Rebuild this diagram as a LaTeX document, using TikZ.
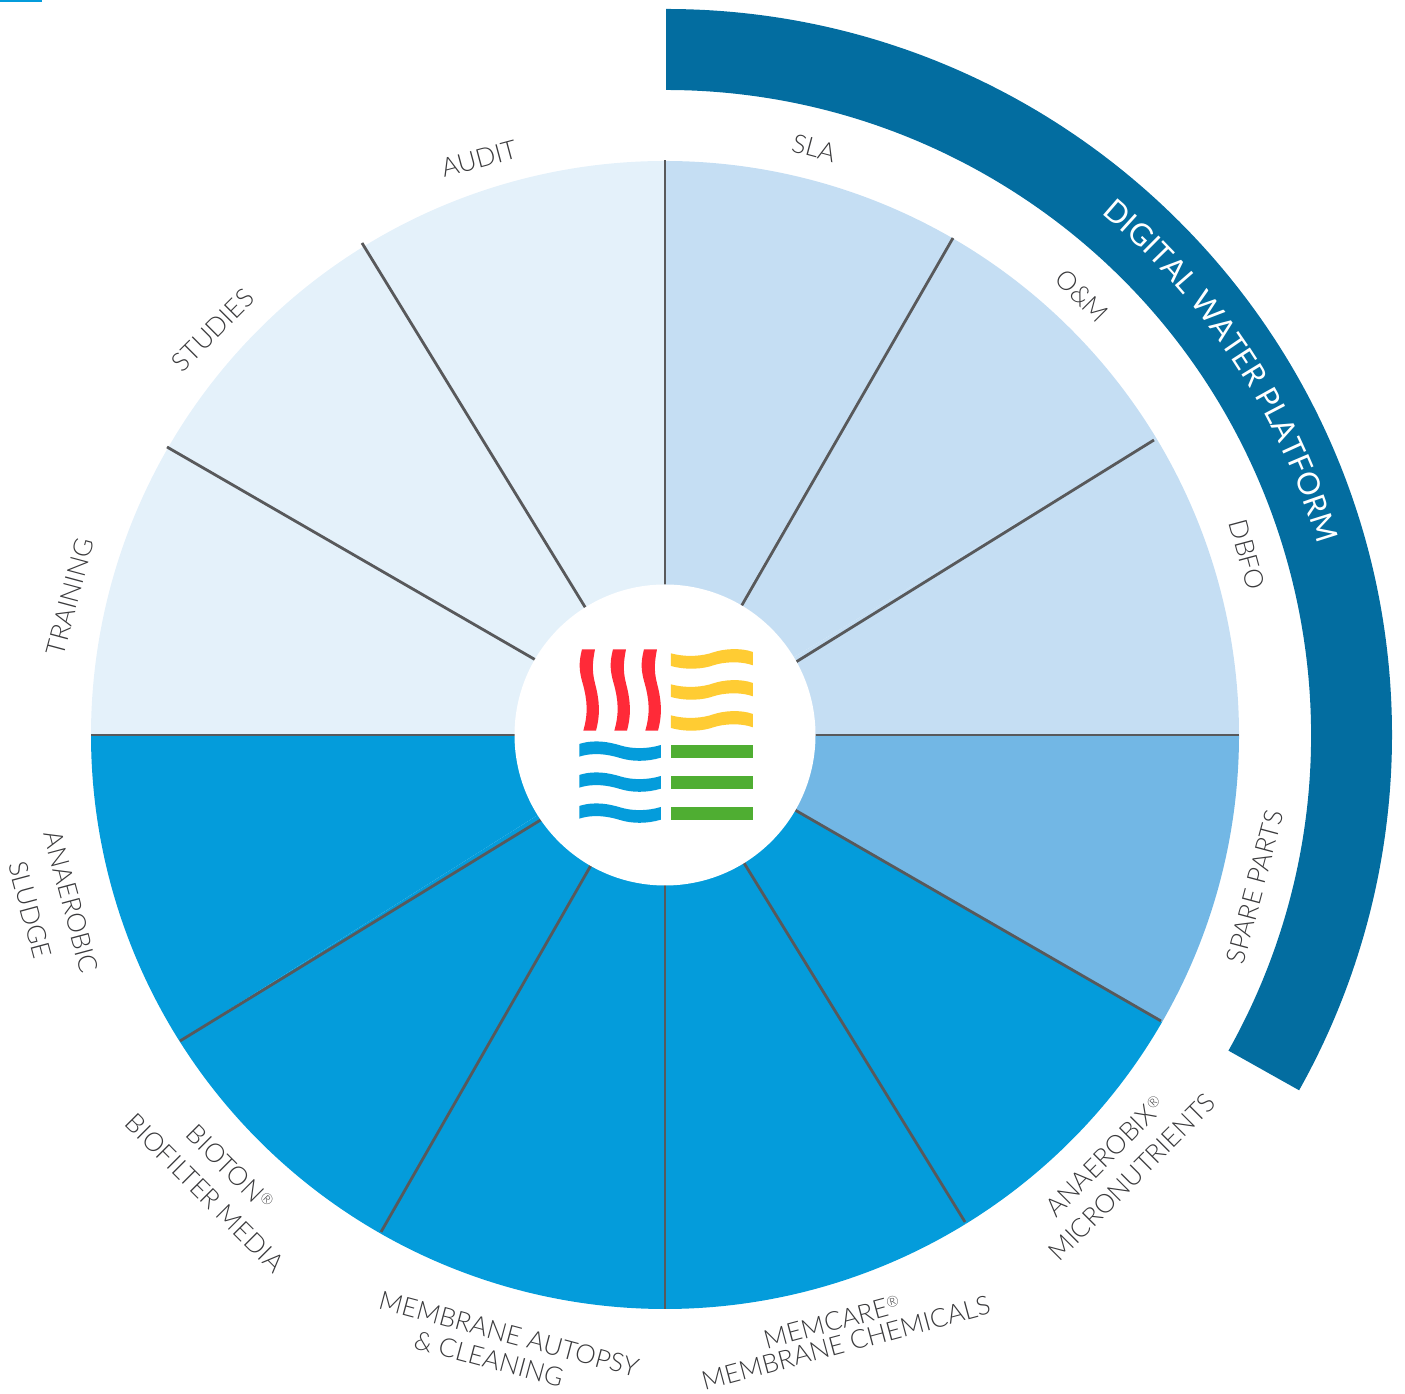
\documentclass[tikz,border=0pt]{standalone}
\usepackage{fontspec}
\setmainfont{Lato Light}
\newfontfamily\regfont{Lato}
\usetikzlibrary{decorations.text}
\definecolor{cLight}{HTML}{C5DEF3}
\definecolor{cPale}{HTML}{E4F1FA}
\definecolor{cMid}{HTML}{72B7E5}
\definecolor{cDark}{HTML}{049CDB}
\definecolor{cRing}{HTML}{036DA0}
\definecolor{cLine}{HTML}{58595B}
\definecolor{cText}{HTML}{3A3A3C}
\definecolor{cRed}{HTML}{FF2A38}
\definecolor{cYel}{HTML}{FFCC33}
\definecolor{cGrn}{HTML}{4FAE32}
\newcommand{\reg}{{\fontsize{15}{15}\selectfont\raisebox{8pt}{®}}}
\tikzset{
  lab/.style={text=cText,font=\fontsize{26}{26}\selectfont,inner sep=0pt,align=center},
  spoke/.style={draw=cLine,line width=2.8pt,shorten <=-4pt},
}
\begin{document}
\begin{tikzpicture}[x=1pt,y=1pt]
\useasboundingbox (0,0) rectangle (1405,1394);
\fill[cDark] (0,1392) rectangle (42,1394);
\begin{scope}[shift={(665,659)}]
  % ring
  \begin{scope}[xshift=1pt]
  \fill[cRing] (90:726) arc[start angle=90,end angle=-29.3,radius=726pt]
    -- (-29.3:645) arc[start angle=-29.3,end angle=90,radius=645pt] -- cycle;
  \end{scope}
  % wedges
  \foreach \a/\b/\c in {60/90/cLight,31.1/60/cLight,0/31.1/cLight,-30/0/cMid,-58.4/-30/cDark,-90/-58.4/cDark,-119.7/-90/cDark,-147.8/-119.7/cDark,-180/-147.8/cDark,150/180/cPale,121.6/150/cPale,90/121.6/cPale}{
    \fill[\c] (0,0) -- (\a:574) arc[start angle=\a,end angle=\b,radius=574pt] -- cycle;
  }
  % spokes
  \foreach \n/\ox/\oy/\ix/\iy in {a/574/0/151/0,b/489/295/131/73,c/288/497/77/130,d/0/575/0/150,e/-303/492/-80/128,f/-498/288/-131/76,g/-574/0/-151/0,h/-485/-306/-126/-86,i/-284/-497/-75/-132,j/0/-574/0/-151,k/300/-487/79/-128,l/496/-286/130/-75}{
    \coordinate (rim\n) at (\ox,\oy);
    \coordinate (hub\n) at (\ix,\iy);
    \draw[spoke] (hub\n) -- (rim\n);
  }
  \node[circle,fill=white,minimum size=301pt,inner sep=0pt] (core) at (0,0) {};
  % ring text
  \path[postaction={decorate,decoration={text along path,text align=center,
     text={|\regfont\fontsize{30.5}{30.5}\selectfont\color{white}|DIGITAL WATER PLATFORM}}}]
     (59.2:680) arc[start angle=59.2,end angle=7.2,radius=680pt];
\end{scope}
% logo
\begin{scope}[shift={(500,814)},x=0.3333pt,y=-0.3333pt]
  \foreach \d in {0,93,186}{
    \fill[cRed,xshift=\d*0.3333pt] (246,208) .. controls (235,250) and (238,275) .. (248,310) .. controls (262,360) and (265,400) .. (250,452) -- (288,452) .. controls (302,400) and (298,360) .. (285,310) .. controls (275,270) and (278,245) .. (285,208) -- cycle;
    \fill[cYel,yshift=-\d*0.3333pt] (513,220) .. controls (560,233) and (610,228) .. (640,217) .. controls (670,207) and (720,202) .. (759,216) -- (759,256) .. controls (720,242) and (670,246) .. (640,256) .. controls (610,267) and (560,271) .. (513,258) -- cycle;
    \fill[cDark,yshift=-\d*0.3333pt] (238,492) .. controls (285,477) and (330,487) .. (360,496) .. controls (395,507) and (440,508) .. (483,495) -- (483,533) .. controls (440,546) and (395,545) .. (360,534) .. controls (330,525) and (285,515) .. (238,530) -- cycle;
    \fill[cGrn,yshift=-\d*0.3333pt] (513,495) rectangle (759,534);
  }
\end{scope}
% labels
\node[lab,rotate=-15] (sla) at (814,1246) {SLA};
\node[lab,rotate=-45] (om) at (1082,1098) {O\&M};
\node[lab,rotate=-75] (dbfo) at (1247,839) {DBFO};
\node[lab,rotate=75] (spare) at (1255,507) {SPARE PARTS};
\node[lab,rotate=45] (anx) at (1105,238) {ANAEROBIX\reg};
\node[lab,rotate=45] (micro) at (1132,217) {MICRONUTRIENTS};
\node[lab,rotate=15] (mem) at (832,72) {MEMCARE\reg};
\node[lab,rotate=15] (memc) at (846,51) {MEMBRANE CHEMICALS};
\node[lab,rotate=-15] (auto) at (509,60) {MEMBRANE AUTOPSY};
\node[lab,rotate=-15] (clean) at (489,35) {\& CLEANING};
\node[lab,rotate=-45] (bio) at (230,226) {BIOTON\reg};
\node[lab,rotate=-45] (biof) at (205,201) {BIOFILTER MEDIA};
\node[lab,rotate=-75] (ana) at (71,492) {ANAEROBIC};
\node[lab,rotate=-75] (slu) at (30,484) {SLUDGE};
\node[lab,rotate=75] (tra) at (70,797) {TRAINING};
\node[lab,rotate=45] (stu) at (213,1064) {STUDIES};
\node[lab,rotate=15] (aud) at (479,1235) {AUDIT};
\end{tikzpicture}
\end{document}
